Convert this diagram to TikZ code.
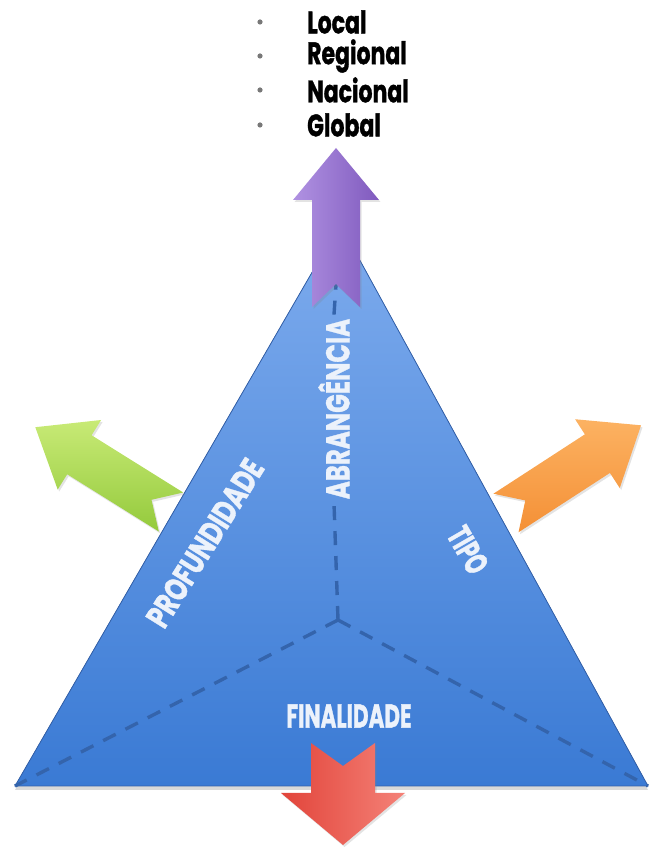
\documentclass[tikz,border=0pt]{standalone}
\usepackage{fontspec}
\setmainfont{Poppins}[BoldFeatures={FakeBold=1.3}]
\usetikzlibrary{shadows}

% palette
\definecolor{triTop}{RGB}{126,172,238}
\definecolor{triBot}{RGB}{58,122,212}
\definecolor{triEdge}{RGB}{50,96,170}
\definecolor{dashBlue}{RGB}{52,100,172}
\definecolor{labelWhite}{RGB}{236,242,251}
\definecolor{purpLight}{RGB}{176,146,226}
\definecolor{purpDark}{RGB}{128,90,190}
\definecolor{greenLight}{RGB}{200,234,118}
\definecolor{greenDark}{RGB}{148,202,60}
\definecolor{orangeLight}{RGB}{252,178,98}
\definecolor{orangeDark}{RGB}{244,144,54}
\definecolor{redLight}{RGB}{244,130,120}
\definecolor{redDark}{RGB}{226,68,58}
\definecolor{bulletGray}{RGB}{120,120,120}

% block arrow: #1 style, #2 tail point, #3 direction, #4 length,
% #5 shaft half width, #6 head half width (head length 52, tail notch 23)
\newcommand{\blkarrow}[6]{%
  \path[#1, shift={#2}, rotate=#3]
    (0,#5) -- ({#4-52},#5) -- ({#4-52},#6) -- (#4,0)
    -- ({#4-52},-#6) -- ({#4-52},-#5) -- (0,-#5) -- (23,0) -- cycle;
}
% horizontally condensed text
\newcommand{\cond}[2]{\scalebox{#1}[1]{#2}}

\begin{document}
\begin{tikzpicture}[x=1pt,y=1pt,
  labeltext/.style={text=labelWhite, inner sep=0pt,
    font=\bfseries\fontsize{33}{33}\selectfont},
  listtext/.style={text=black, inner sep=0pt, anchor=west,
    font=\bfseries\fontsize{31}{31}\selectfont},
  dashline/.style={draw=dashBlue, line width=3.4pt, dash pattern=on 14pt off 11pt},
  arrowshadow/.style={drop shadow={opacity=0.22, shadow xshift=1.5pt, shadow yshift=-2pt}}]
\useasboundingbox (0,0) rectangle (650,850);

% triangle corners and centre
\coordinate (apex) at (340,626);
\coordinate (bl) at (15,64);
\coordinate (br) at (648,64);
\coordinate (ctr) at (338,230);

% triangle body
\fill[top color=triTop, bottom color=triBot,
  drop shadow={opacity=0.3, shadow xshift=0pt, shadow yshift=-4pt}]
  (apex) -- (br) -- (bl) -- cycle;
\draw[triEdge, line width=0.8pt] (apex) -- (br) -- (bl) -- cycle;

% labels inside the triangle
\node[labeltext, rotate=90] (abr) at (334,441) {\cond{0.74}{ABRANGÊNCIA}};
\node[labeltext, rotate=58] (prof) at (205,307) {\cond{0.74}{PROFUNDIDADE}};
\node[labeltext, rotate=-60] (tipo) at (468,300) {\cond{0.64}{TIPO}};
\node[labeltext] (fin) at (349,134) {\cond{0.65}{FINALIDADE}};

% dashed axes from the centre
\draw[dashline] (ctr) -- (bl);
\draw[dashline] (ctr) -- (br);
\draw[dashline] (ctr) -- ([yshift=-4pt]abr.west);
\draw[dashline] ([yshift=4pt]abr.east) -- (apex);

% arrows
\blkarrow{left color=purpLight, right color=purpDark, arrowshadow}{(336,543)}{90}{159}{24}{43}
\blkarrow{top color=greenLight, bottom color=greenDark, arrowshadow}{(171,338)}{148}{160}{23}{41}
\blkarrow{top color=orangeLight, bottom color=orangeDark, arrowshadow}{(506,337)}{33}{161}{23}{41}
\blkarrow{left color=redDark, right color=redLight, arrowshadow}{(343,107)}{-90}{102}{32}{62}

% scope list above the apex
\foreach \name/\txt/\yy in {l1/Local/828, l2/Regional/794, l3/Nacional/760, l4/Global/725}{
  \fill[bulletGray] (260,\yy) circle (2.6pt);
  \node[listtext] (\name) at (307,\yy) {\cond{0.71}{\txt}};
}
\end{tikzpicture}
\end{document}
